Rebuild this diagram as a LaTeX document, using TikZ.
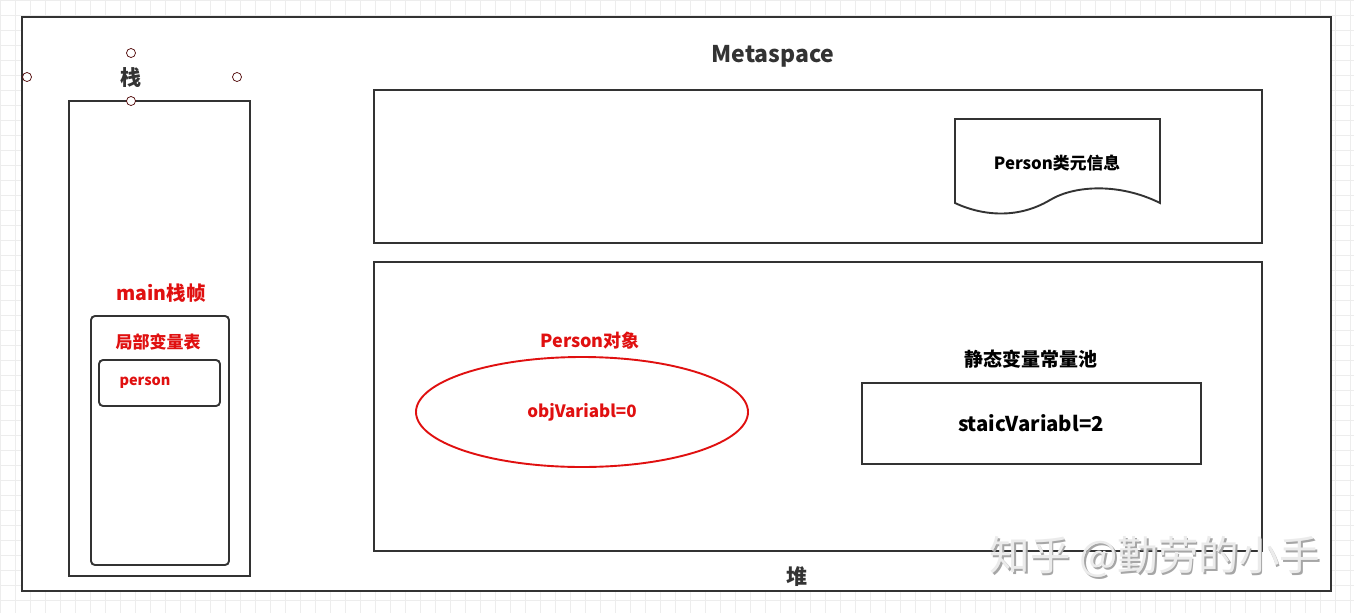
\documentclass[tikz,border=0pt]{standalone}
\usepackage{fontspec}
\setmainfont{Noto Sans CJK SC}
\newfontfamily\cjk{Noto Sans CJK SC}
\usetikzlibrary{shapes.geometric}
\definecolor{frame}{HTML}{333333}
\definecolor{redtxt}{HTML}{E01010}
\definecolor{gridc}{HTML}{EDEDED}
\tikzset{
  box/.style={draw=frame, line width=1.9pt, fill=white},
  rbox/.style={draw=frame, line width=1.9pt, rounded corners=4pt, fill=white},
  lbl/.style={font=\cjk\bfseries, text=frame, inner sep=0pt},
  rlbl/.style={font=\cjk\bfseries, text=redtxt, inner sep=0pt},
  handle/.style={circle, draw=black!70!red, fill=white, line width=0.7pt, minimum size=9pt, inner sep=0pt},
}
\begin{document}
\begin{tikzpicture}[x=1pt,y=-1pt]
\useasboundingbox (0,0) rectangle (1354,613);
\fill[white] (0,0) rectangle (1354,613);
\draw[gridc, line width=0.6pt, step=15pt] (0,0) grid (1354,613);
% outer frame
\draw[box] (22,17) rectangle (1331,591);
% stack
\draw[box] (69,101) rectangle (250,576);
\node[lbl, font=\cjk\bfseries\fontsize{21}{24}\selectfont] (stk) at (131,78) {栈};
\node[rlbl, font=\cjk\bfseries\fontsize{19.5}{22}\selectfont] (mf) at (161,293) {main栈帧};
\draw[rbox] (91,316) rectangle (229,565);
\node[rlbl, font=\cjk\bfseries\fontsize{17}{20}\selectfont] (lvt) at (158,342) {局部变量表};
\draw[rbox] (99,360) rectangle (220,406);
\node[rlbl, font=\cjk\bfseries\fontsize{14.5}{17}\selectfont] (per) at (145,383) {person};
% handles
\node[handle] (h1) at (131,53) {};
\node[handle] (h2) at (27,77) {};
\node[handle] (h3) at (237,77) {};
\node[handle] (h4) at (131,101) {};
% metaspace
\node[lbl, font=\cjk\bfseries\fontsize{23}{26}\selectfont] (meta) at (773,56) {Metaspace};
\draw[box] (374,90) rectangle (1262,243);
\draw[box] (955,203) -- (955,119) -- (1160,119) -- (1160,203)
  .. controls (1120,183) and (1075,185) .. (1050,200)
  .. controls (1020,218) and (985,217) .. (955,203) -- cycle;
\node[lbl, text=black, font=\cjk\bfseries\fontsize{16.8}{20}\selectfont] (pinfo) at (1057,163) {Person类元信息};
% heap
\draw[box] (374,262) rectangle (1262,551);
\node[lbl, font=\cjk\bfseries\fontsize{21}{24}\selectfont] (heap) at (797,577) {堆};
\node[rlbl, font=\cjk\bfseries\fontsize{18}{21}\selectfont] (po) at (590,341) {Person对象};
\node[ellipse, draw=redtxt, line width=1.9pt, minimum width=332pt, minimum height=110pt, inner sep=0pt] (ell) at (582,412) {};
\node[rlbl, font=\cjk\bfseries\fontsize{17}{20}\selectfont] (ov) at (582,412) {objVariabl=0};
\node[lbl, text=black, font=\cjk\bfseries\fontsize{19}{22}\selectfont] (pool) at (1031,359) {静态变量常量池};
\draw[box] (862,383) rectangle (1201,464);
\node[lbl, text=black, font=\cjk\bfseries\fontsize{20.4}{24}\selectfont] (sv) at (1031,423) {staicVariabl=2};
% watermark
\node[inner sep=0pt, text=black!35, font=\cjk\fontsize{40.5}{44}\selectfont] (wm0) at (1156.5,558.5) {知乎 @勤劳的小手};
\node[inner sep=0pt, text=white!92!black, font=\cjk\fontsize{40.5}{44}\selectfont] (wm) at (1155,557) {知乎 @勤劳的小手};
\end{tikzpicture}
\end{document}
